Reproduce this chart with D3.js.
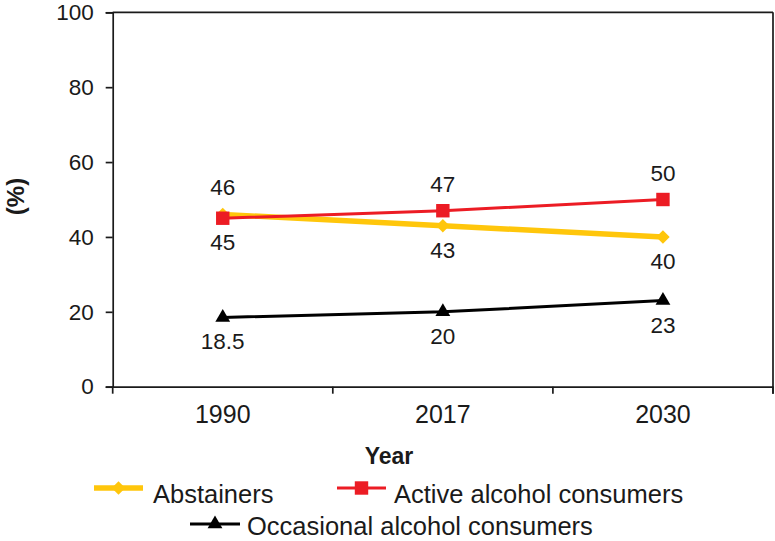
<!DOCTYPE html>
<html>
<head>
<meta charset="utf-8">
<script src="https://cdn.jsdelivr.net/npm/d3@7"></script>
<style>
  html, body { margin: 0; padding: 0; background: #fff; }
  svg text { font-family: "Liberation Sans", Arial, sans-serif; fill: #1a1a1a; }
</style>
</head>
<body>
<svg id="chart" width="775" height="541"></svg>
<script>
const years = ["1990", "2017", "2030"];
const abstainers = [46, 43, 40];
const active = [45, 47, 50];
const occasional = [18.5, 20, 23];
const yTicks = [0, 20, 40, 60, 80, 100];
// label placement: -1 above the point, +1 below
const abstainersLabelPos = [-1, 1, 1];
const activeLabelPos = [1, -1, -1];
const occasionalLabelPos = [1, 1, 1];

(function () {
const series = [
  { name: "Abstainers", values: abstainers, labelPos: abstainersLabelPos, color: "#FFC60B", width: 5.5, symbol: d3.symbolDiamond2, size: 115 },
  { name: "Active alcohol consumers", values: active, labelPos: activeLabelPos, color: "#EC1C24", width: 3, symbol: d3.symbolSquare, size: 180 },
  { name: "Occasional alcohol consumers", values: occasional, labelPos: occasionalLabelPos, color: "#000000", width: 3, symbol: d3.symbolTriangle, size: 95 }
];

const svg = d3.select("#chart");
const pL = 112.7, pR = 773, pT = 12.3, pB = 386.7;
const axisColor = "#1a1a1a", axisW = 1.7;

const x = d3.scaleBand().domain(years).range([pL, pR]).paddingInner(0).paddingOuter(0);
const y = d3.scaleLinear().domain([0, 100]).range([pB, pT]);

// frame (top & right)
svg.append("line").attr("x1", pL).attr("x2", pR).attr("y1", pT).attr("y2", pT)
  .attr("stroke", axisColor).attr("stroke-width", axisW);
svg.append("line").attr("x1", pR).attr("x2", pR).attr("y1", pT).attr("y2", pB + 7)
  .attr("stroke", axisColor).attr("stroke-width", axisW);

// y axis
const yAxis = svg.append("g").attr("transform", `translate(${pL},0)`)
  .call(d3.axisLeft(y).tickValues(yTicks).tickSize(7).tickPadding(12));
yAxis.select(".domain").attr("stroke", axisColor).attr("stroke-width", axisW);
yAxis.selectAll(".tick line").attr("stroke", axisColor).attr("stroke-width", axisW);
yAxis.selectAll(".tick text").attr("font-size", 22.5).attr("fill", "#1a1a1a")
  .style("font-family", '"Liberation Sans", Arial, sans-serif');

// x axis
const xAxis = svg.append("g").attr("transform", `translate(0,${pB})`)
  .call(d3.axisBottom(x).tickSize(0).tickPadding(19));
xAxis.select(".domain").attr("stroke", axisColor).attr("stroke-width", axisW);
xAxis.selectAll(".tick text").attr("font-size", 25).attr("fill", "#1a1a1a")
  .style("font-family", '"Liberation Sans", Arial, sans-serif');
const boundaries = years.map(d => x(d)).concat([x(years[years.length - 1]) + x.bandwidth()]);
svg.append("g").selectAll("line").data(boundaries).join("line")
  .attr("x1", d => d).attr("x2", d => d).attr("y1", pB).attr("y2", pB + 7)
  .attr("stroke", axisColor).attr("stroke-width", axisW);

// axis titles
svg.append("text").attr("x", 389).attr("y", 464)
  .attr("text-anchor", "middle").attr("font-size", 23).attr("font-weight", "bold").text("Year");
svg.append("text").attr("transform", "translate(24,196.5) rotate(-90)")
  .attr("text-anchor", "middle").attr("font-size", 24).attr("font-weight", "bold").text("(%)");

const cx = d => x(d) + x.bandwidth() / 2;
const line = d3.line().x((d, i) => cx(years[i])).y(d => y(d));

// lines first, then markers, then labels
series.forEach(s => {
  svg.append("path").datum(s.values).attr("d", line)
    .attr("fill", "none").attr("stroke", s.color).attr("stroke-width", s.width);
});
series.forEach(s => {
  svg.append("g").selectAll("path").data(s.values).join("path")
    .attr("transform", (d, i) => `translate(${cx(years[i])},${y(d)})`)
    .attr("d", d3.symbol().type(s.symbol).size(s.size)).attr("fill", s.color);
});
series.forEach(s => {
  svg.append("g").selectAll("text").data(s.values).join("text")
    .attr("x", (d, i) => cx(years[i]))
    .attr("y", (d, i) => y(d) + (s.labelPos[i] < 0 ? -19 : 32))
    .attr("text-anchor", "middle").attr("font-size", 22.5).text(d => d);
});

// legend
const legendItems = [
  { s: series[0], x1: 94, x2: 143, ly: 488, tx: 153, ty: 503 },
  { s: series[1], x1: 337, x2: 386, ly: 488, tx: 394, ty: 503 },
  { s: series[2], x1: 190, x2: 240, ly: 524, tx: 247, ty: 535 }
];
legendItems.forEach(it => {
  const g = svg.append("g");
  g.append("line").attr("x1", it.x1).attr("x2", it.x2).attr("y1", it.ly).attr("y2", it.ly)
    .attr("stroke", it.s.color).attr("stroke-width", it.s.width);
  g.append("path").attr("transform", `translate(${(it.x1 + it.x2) / 2},${it.ly})`)
    .attr("d", d3.symbol().type(it.s.symbol).size(it.s.size)).attr("fill", it.s.color);
  g.append("text").attr("x", it.tx).attr("y", it.ty).attr("font-size", 25.5)
    .text(it.s.name);
});
})();
</script>
</body>
</html>
